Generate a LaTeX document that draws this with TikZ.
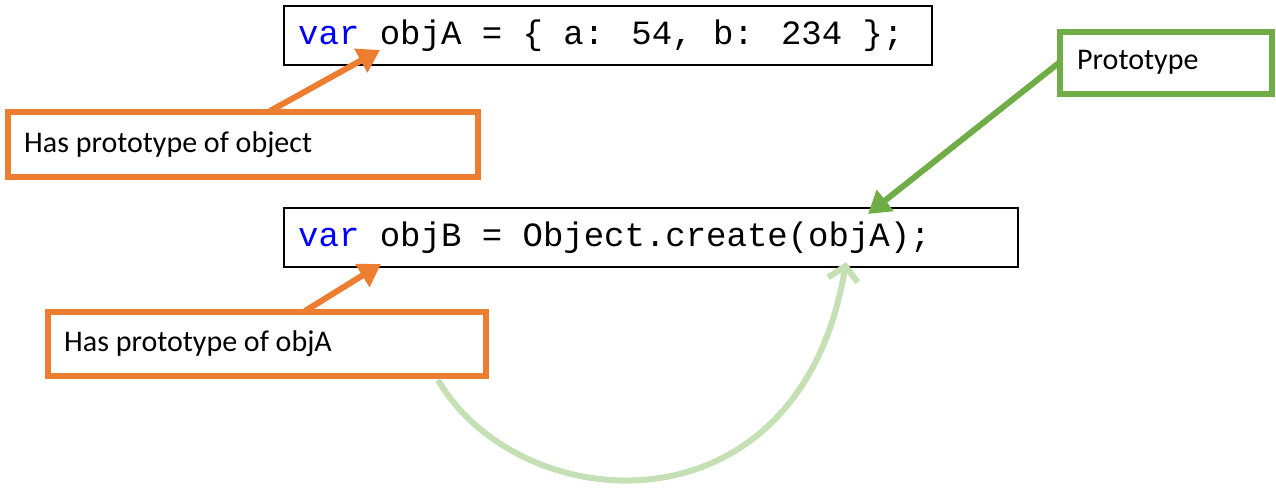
\documentclass[tikz,border=0pt]{standalone}
\usepackage{fontspec}
\setmainfont{Carlito}
\newfontfamily\codefont{Liberation Mono}
\usetikzlibrary{arrows.meta}
\definecolor{orng}{HTML}{ED7D31}
\definecolor{grn}{HTML}{70AD47}
\definecolor{lgrn}{HTML}{C5E0B4}
\definecolor{kw}{HTML}{0000FF}
\begin{document}
\begin{tikzpicture}[x=1pt,y=-1pt,
  codebox/.style={draw,line width=1.5pt,anchor=north west,inner sep=0pt},
  labbox/.style={line width=6pt,anchor=north west,inner sep=0pt},
  codetxt/.style={font=\codefont\fontsize{34}{40}\selectfont,anchor=west,inner sep=0pt},
  labtxt/.style={font=\fontsize{30}{36}\selectfont,anchor=west,inner sep=0pt},
  oarrow/.style={orng,line width=6pt,-{Triangle[length=22pt,width=26pt]}},
  garrow/.style={grn,line width=6pt,-{Triangle[length=22pt,width=26pt]}}]
\useasboundingbox (0,0) rectangle (1276,490);
\fill[white] (0,0) rectangle (1276,490);
\draw[line width=1.5pt] (284,6) rectangle (932,65);
\node[codetxt] (ca) at (298,36) {\textcolor{kw}{var} objA = \{ a: 54, b: 234 \};};
\draw[line width=1.5pt] (284,208) rectangle (1018,267);
\node[codetxt] (cb) at (298,238) {\textcolor{kw}{var} objB = Object.create(objA);};
\draw[orng,line width=6pt] (8,112) rectangle (478,177);
\node[labtxt] (o1) at (24,145) {Has prototype of object};
\draw[orng,line width=6pt] (48,312) rectangle (486,376);
\node[labtxt] (o2) at (64,344) {Has prototype of objA};
\draw[grn,line width=6pt] (1060,32) rectangle (1272,94);
\node[labtxt] (g) at (1077,62) {Prototype};
\coordinate (a1s) at (270,111); \coordinate (a1e) at (380,50);
\coordinate (a2s) at (305,311); \coordinate (a2e) at (381,264);
\coordinate (g1s) at (1060,62); \coordinate (g1e) at (868,214);
\draw[oarrow] (a1s) -- (a1e);
\draw[oarrow] (a2s) -- (a2e);
\draw[garrow] (g1s) -- (g1e);
\coordinate (cs) at (438,380); \coordinate (ce) at (846,262);
\draw[lgrn,line width=6pt,-{Straight Barb[length=14pt,width=30pt,line width=6pt]}] (cs) .. controls (520,520) and (800,540) .. (ce);
\end{tikzpicture}
\end{document}
